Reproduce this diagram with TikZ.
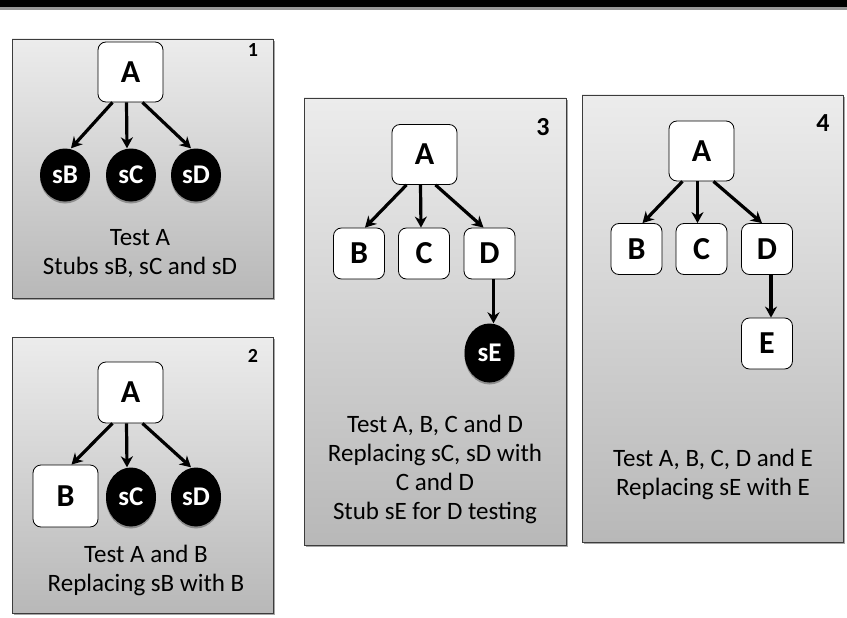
\documentclass[tikz,border=0pt]{standalone}
\usepackage{fontspec}
\setmainfont{Carlito}
\usepackage{xcolor}
\usetikzlibrary{arrows.meta, positioning, shapes.geometric, shadows}

\definecolor{paneltop}{RGB}{236,236,236}
\definecolor{panelbot}{RGB}{184,184,184}
\definecolor{paneledge}{RGB}{60,60,60}
\definecolor{rulegray}{RGB}{150,150,150}

\begin{document}
\begin{tikzpicture}[
        x=1pt, y=-1pt,
        every node/.style={font=\fontsize{25}{29}\selectfont},
        panel/.style={rectangle, draw=paneledge, line width=0.9pt, top color=paneltop, bottom color=panelbot, inner sep=0pt,
            drop shadow={shadow xshift=2pt, shadow yshift=-2pt, opacity=0.35, fill=black}},
        module/.style={rectangle, draw, fill=white, rounded corners=8pt, line width=0.8pt, minimum width=51pt, minimum height=51pt,
            font=\fontsize{32}{32}\selectfont\bfseries},
        topmodule/.style={module, minimum width=65pt, minimum height=60pt},
        stub/.style={ellipse, fill=black, text=white, inner sep=0pt, minimum width=50pt, minimum height=59pt,
            font=\fontsize{27}{27}\selectfont\bfseries,
            drop shadow={shadow xshift=0pt, shadow yshift=-2pt, opacity=0.3, fill=black}},
        textnode/.style={align=center},
        number/.style={font=\fontsize{20}{20}\selectfont\bfseries},
        arrow/.style={-{Stealth[length=11pt, width=12pt]}, line width=3.2pt}
    ]
    \useasboundingbox (0,0) rectangle (847,618);

    % Title rule
    \fill[black] (0,0) rectangle (847,7.5);
    \fill[rulegray] (0,7.5) rectangle (847,10);

    % Panels
    \node[panel, minimum width=261pt, minimum height=259pt] (p1) at (142.5,168.5) {};
    \node[panel, minimum width=261pt, minimum height=276pt] (p2) at (142.5,475) {};
    \node[panel, minimum width=262pt, minimum height=447pt] (p3) at (435,321.5) {};
    \node[panel, minimum width=261pt, minimum height=447pt] (p4) at (712.5,318.5) {};

    % Numbers
    \node[number] (n1) at (253,50) {1};
    \node[number] (n2) at (253,356) {2};
    \node[number, font=\fontsize{26}{26}\selectfont\bfseries] (n3) at (543,127) {3};
    \node[number, font=\fontsize{26}{26}\selectfont\bfseries] (n4) at (823,123) {4};

    % Panel 1
    \node[topmodule] (a1) at (130.5,72) {A};
    \node[stub, minimum height=53pt] (sb1) at (65,175) {sB};
    \node[stub, minimum height=53pt] (sc1) at (131,175) {sC};
    \node[stub, minimum height=53pt] (sd1) at (196,175) {sD};
    \node[textnode] (t1) at (140,254) {Test A\\Stubs sB, sC and sD};

    % Panel 2
    \node[topmodule, minimum height=61pt] (a2) at (130.5,392.5) {A};
    \node[topmodule, minimum height=62pt] (b2) at (65.5,496) {B};
    \node[stub] (sc2) at (131,497) {sC};
    \node[stub] (sd2) at (196,497) {sD};
    \node[textnode] (t2) at (146,570) {Test A and B\\Replacing sB with B};

    % Panel 3
    \node[topmodule] (a3) at (424.5,154.5) {A};
    \node[module] (b3) at (359,253.5) {B};
    \node[module] (c3) at (424,253.5) {C};
    \node[module] (d3) at (489.5,253.5) {D};
    \node[stub] (se3) at (489.5,353) {sE};
    \node[textnode] (t3) at (435,469) {Test A, B, C and D\\Replacing sC, sD with\\C and D\\Stub sE for D testing};

    % Panel 4
    \node[topmodule] (a4) at (701.5,151) {A};
    \node[module] (b4) at (636.5,249) {B};
    \node[module] (c4) at (701.5,249) {C};
    \node[module] (d4) at (767,249) {D};
    \node[module] (e4) at (767,343.5) {E};
    \node[textnode] (t4) at (713,474) {Test A, B, C, D and E\\Replacing sE with E};

    % Arrows
    \draw[arrow] ([xshift=-18pt]a1.south) -- ([xshift=6pt]sb1.north);
    \draw[arrow] ([xshift=-4pt]a1.south) -- ([xshift=-4pt]sc1.north);
    \draw[arrow] ([xshift=12pt]a1.south) -- ([xshift=-5pt]sd1.north);

    \draw[arrow] ([xshift=-18pt]a2.south) -- ([xshift=6pt]b2.north);
    \draw[arrow] ([xshift=-4pt]a2.south) -- ([xshift=-4pt]sc2.north);
    \draw[arrow] ([xshift=12pt]a2.south) -- ([xshift=-5pt]sd2.north);

    \draw[arrow] ([xshift=-18pt]a3.south) -- ([xshift=6pt]b3.north);
    \draw[arrow] ([xshift=-4pt]a3.south) -- ([xshift=-3pt]c3.north);
    \draw[arrow] ([xshift=11pt]a3.south) -- ([xshift=-6pt]d3.north);
    \draw[arrow] ([xshift=4pt]d3.south) -- ([xshift=4pt]se3.north);

    \draw[arrow] ([xshift=-19pt]a4.south) -- ([xshift=6pt]b4.north);
    \draw[arrow] ([xshift=-4pt]a4.south) -- ([xshift=-4pt]c4.north);
    \draw[arrow] ([xshift=12pt]a4.south) -- ([xshift=-5pt]d4.north);
    \draw[arrow] ([xshift=4pt]d4.south) -- ([xshift=4pt]e4.north);
\end{tikzpicture}
\end{document}
